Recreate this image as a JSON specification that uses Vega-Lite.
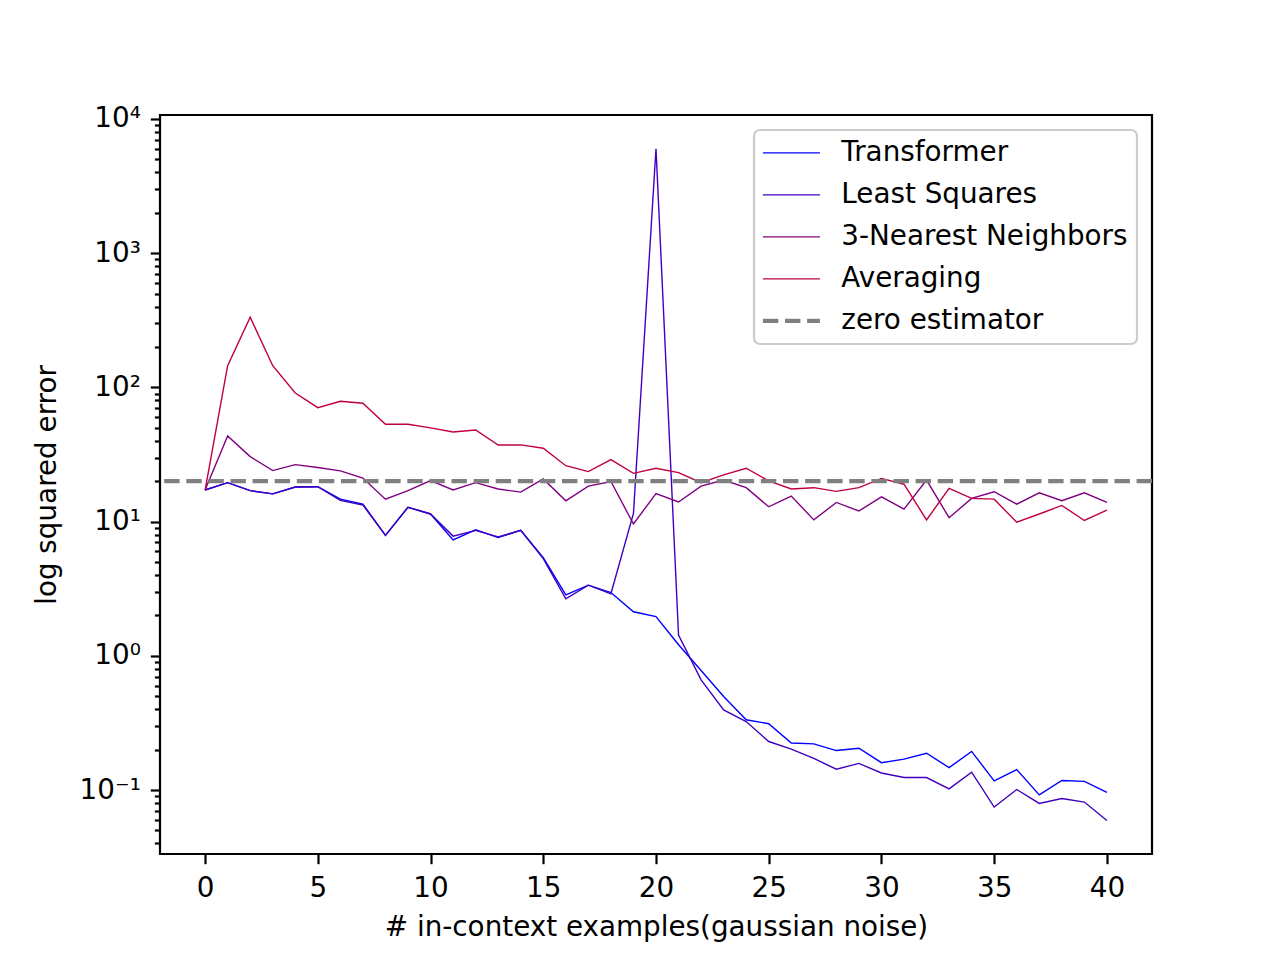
{
  "$schema": "https://vega.github.io/schema/vega-lite/v6.json",
  "width": 992,
  "height": 739,
  "autosize": {"type": "none"},
  "padding": {"left": 160, "top": 115, "right": 128, "bottom": 106},
  "background": "white",
  "config": {
    "font": "DejaVu Sans",
    "view": {"stroke": "black", "strokeWidth": 2.2},
    "axis": {
      "grid": false,
      "domain": false,
      "labelFont": "DejaVu Sans",
      "labelFontSize": 27.8,
      "labelColor": "black",
      "titleFont": "DejaVu Sans",
      "titleFontSize": 27.8,
      "titleFontWeight": "normal",
      "titleColor": "black",
      "tickColor": "black",
      "tickWidth": 2.2
    },
    "legend": {
      "orient": "none",
      "legendX": 594,
      "legendY": 15,
      "labelFont": "DejaVu Sans",
      "labelFontSize": 27.8,
      "labelColor": "black",
      "labelLimit": 0,
      "labelOffset": 36,
      "symbolType": "stroke",
      "symbolSize": 784,
      "symbolOffset": 14.5,
      "rowPadding": 13,
      "padding": 9,
      "fillColor": "rgba(255,255,255,0.8)",
      "strokeColor": "#cccccc",
      "strokeWidth": 2.2,
      "cornerRadius": 6
    }
  },
  "layer": [
    {
      "data": {
        "values": [
          {"n":0,"series":"Transformer","v":17.2},{"n":1,"series":"Transformer","v":19.5},{"n":2,"series":"Transformer","v":17.0},{"n":3,"series":"Transformer","v":16.1},{"n":4,"series":"Transformer","v":18.1},{"n":5,"series":"Transformer","v":18.2},{"n":6,"series":"Transformer","v":14.7},{"n":7,"series":"Transformer","v":13.5},{"n":8,"series":"Transformer","v":7.9},{"n":9,"series":"Transformer","v":12.8},{"n":10,"series":"Transformer","v":11.4},{"n":11,"series":"Transformer","v":7.3},{"n":12,"series":"Transformer","v":8.7},{"n":13,"series":"Transformer","v":7.6},{"n":14,"series":"Transformer","v":8.6},{"n":15,"series":"Transformer","v":5.4},{"n":16,"series":"Transformer","v":2.85},{"n":17,"series":"Transformer","v":3.36},{"n":18,"series":"Transformer","v":2.96},{"n":19,"series":"Transformer","v":2.13},{"n":20,"series":"Transformer","v":1.96},{"n":21,"series":"Transformer","v":1.21},{"n":22,"series":"Transformer","v":0.778},{"n":23,"series":"Transformer","v":0.498},{"n":24,"series":"Transformer","v":0.334},{"n":25,"series":"Transformer","v":0.312},{"n":26,"series":"Transformer","v":0.224},{"n":27,"series":"Transformer","v":0.221},{"n":28,"series":"Transformer","v":0.197},{"n":29,"series":"Transformer","v":0.205},{"n":30,"series":"Transformer","v":0.16},{"n":31,"series":"Transformer","v":0.17},{"n":32,"series":"Transformer","v":0.188},{"n":33,"series":"Transformer","v":0.147},{"n":34,"series":"Transformer","v":0.194},{"n":35,"series":"Transformer","v":0.117},{"n":36,"series":"Transformer","v":0.142},{"n":37,"series":"Transformer","v":0.092},{"n":38,"series":"Transformer","v":0.118},{"n":39,"series":"Transformer","v":0.116},{"n":40,"series":"Transformer","v":0.096},
          {"n":0,"series":"Least Squares","v":17.2},{"n":1,"series":"Least Squares","v":19.5},{"n":2,"series":"Least Squares","v":17.0},{"n":3,"series":"Least Squares","v":16.1},{"n":4,"series":"Least Squares","v":18.1},{"n":5,"series":"Least Squares","v":18.2},{"n":6,"series":"Least Squares","v":14.4},{"n":7,"series":"Least Squares","v":13.3},{"n":8,"series":"Least Squares","v":7.9},{"n":9,"series":"Least Squares","v":12.8},{"n":10,"series":"Least Squares","v":11.4},{"n":11,"series":"Least Squares","v":7.8},{"n":12,"series":"Least Squares","v":8.6},{"n":13,"series":"Least Squares","v":7.7},{"n":14,"series":"Least Squares","v":8.6},{"n":15,"series":"Least Squares","v":5.3},{"n":16,"series":"Least Squares","v":2.66},{"n":17,"series":"Least Squares","v":3.36},{"n":18,"series":"Least Squares","v":2.9},{"n":19,"series":"Least Squares","v":11.5},{"n":20,"series":"Least Squares","v":6000},{"n":21,"series":"Least Squares","v":1.43},{"n":22,"series":"Least Squares","v":0.663},{"n":23,"series":"Least Squares","v":0.396},{"n":24,"series":"Least Squares","v":0.324},{"n":25,"series":"Least Squares","v":0.23},{"n":26,"series":"Least Squares","v":0.202},{"n":27,"series":"Least Squares","v":0.172},{"n":28,"series":"Least Squares","v":0.143},{"n":29,"series":"Least Squares","v":0.158},{"n":30,"series":"Least Squares","v":0.134},{"n":31,"series":"Least Squares","v":0.124},{"n":32,"series":"Least Squares","v":0.124},{"n":33,"series":"Least Squares","v":0.102},{"n":34,"series":"Least Squares","v":0.136},{"n":35,"series":"Least Squares","v":0.0747},{"n":36,"series":"Least Squares","v":0.101},{"n":37,"series":"Least Squares","v":0.0795},{"n":38,"series":"Least Squares","v":0.0865},{"n":39,"series":"Least Squares","v":0.0814},{"n":40,"series":"Least Squares","v":0.0594},
          {"n":0,"series":"3-Nearest Neighbors","v":17.2},{"n":1,"series":"3-Nearest Neighbors","v":43.5},{"n":2,"series":"3-Nearest Neighbors","v":30.5},{"n":3,"series":"3-Nearest Neighbors","v":24.0},{"n":4,"series":"3-Nearest Neighbors","v":26.6},{"n":5,"series":"3-Nearest Neighbors","v":25.3},{"n":6,"series":"3-Nearest Neighbors","v":23.9},{"n":7,"series":"3-Nearest Neighbors","v":21.1},{"n":8,"series":"3-Nearest Neighbors","v":14.7},{"n":9,"series":"3-Nearest Neighbors","v":17.0},{"n":10,"series":"3-Nearest Neighbors","v":20.2},{"n":11,"series":"3-Nearest Neighbors","v":17.2},{"n":12,"series":"3-Nearest Neighbors","v":19.5},{"n":13,"series":"3-Nearest Neighbors","v":17.5},{"n":14,"series":"3-Nearest Neighbors","v":16.6},{"n":15,"series":"3-Nearest Neighbors","v":20.8},{"n":16,"series":"3-Nearest Neighbors","v":14.3},{"n":17,"series":"3-Nearest Neighbors","v":18.4},{"n":18,"series":"3-Nearest Neighbors","v":19.9},{"n":19,"series":"3-Nearest Neighbors","v":9.6},{"n":20,"series":"3-Nearest Neighbors","v":16.2},{"n":21,"series":"3-Nearest Neighbors","v":14.0},{"n":22,"series":"3-Nearest Neighbors","v":18.4},{"n":23,"series":"3-Nearest Neighbors","v":20.4},{"n":24,"series":"3-Nearest Neighbors","v":17.9},{"n":25,"series":"3-Nearest Neighbors","v":12.9},{"n":26,"series":"3-Nearest Neighbors","v":15.5},{"n":27,"series":"3-Nearest Neighbors","v":10.3},{"n":28,"series":"3-Nearest Neighbors","v":13.9},{"n":29,"series":"3-Nearest Neighbors","v":12.0},{"n":30,"series":"3-Nearest Neighbors","v":15.3},{"n":31,"series":"3-Nearest Neighbors","v":12.4},{"n":32,"series":"3-Nearest Neighbors","v":20.4},{"n":33,"series":"3-Nearest Neighbors","v":10.7},{"n":34,"series":"3-Nearest Neighbors","v":14.9},{"n":35,"series":"3-Nearest Neighbors","v":16.7},{"n":36,"series":"3-Nearest Neighbors","v":13.5},{"n":37,"series":"3-Nearest Neighbors","v":16.4},{"n":38,"series":"3-Nearest Neighbors","v":14.3},{"n":39,"series":"3-Nearest Neighbors","v":16.4},{"n":40,"series":"3-Nearest Neighbors","v":13.9},
          {"n":0,"series":"Averaging","v":17.2},{"n":1,"series":"Averaging","v":145},{"n":2,"series":"Averaging","v":333},{"n":3,"series":"Averaging","v":145},{"n":4,"series":"Averaging","v":90.8},{"n":5,"series":"Averaging","v":70.6},{"n":6,"series":"Averaging","v":78.8},{"n":7,"series":"Averaging","v":76.2},{"n":8,"series":"Averaging","v":53.1},{"n":9,"series":"Averaging","v":53.1},{"n":10,"series":"Averaging","v":49.9},{"n":11,"series":"Averaging","v":46.5},{"n":12,"series":"Averaging","v":48.2},{"n":13,"series":"Averaging","v":37.2},{"n":14,"series":"Averaging","v":37.3},{"n":15,"series":"Averaging","v":35.2},{"n":16,"series":"Averaging","v":26.1},{"n":17,"series":"Averaging","v":23.6},{"n":18,"series":"Averaging","v":29.0},{"n":19,"series":"Averaging","v":22.9},{"n":20,"series":"Averaging","v":25.0},{"n":21,"series":"Averaging","v":23.2},{"n":22,"series":"Averaging","v":19.5},{"n":23,"series":"Averaging","v":22.3},{"n":24,"series":"Averaging","v":25.0},{"n":25,"series":"Averaging","v":20.1},{"n":26,"series":"Averaging","v":17.5},{"n":27,"series":"Averaging","v":17.9},{"n":28,"series":"Averaging","v":16.8},{"n":29,"series":"Averaging","v":17.9},{"n":30,"series":"Averaging","v":21.0},{"n":31,"series":"Averaging","v":19.0},{"n":32,"series":"Averaging","v":10.3},{"n":33,"series":"Averaging","v":17.7},{"n":34,"series":"Averaging","v":14.9},{"n":35,"series":"Averaging","v":14.7},{"n":36,"series":"Averaging","v":9.9},{"n":37,"series":"Averaging","v":11.4},{"n":38,"series":"Averaging","v":13.2},{"n":39,"series":"Averaging","v":10.2},{"n":40,"series":"Averaging","v":12.2}
        ]
      },
      "mark": {"type": "line", "clip": true, "strokeWidth": 1.4},
      "encoding": {
        "x": {
          "field": "n", "type": "quantitative",
          "scale": {"domain": [-2, 42], "nice": false, "zero": false},
          "axis": {
            "title": "# in-context examples(gaussian noise)",
            "values": [0, 5, 10, 15, 20, 25, 30, 35, 40],
            "tickSize": 9.7,
            "labelPadding": 10.5,
            "titlePadding": 11,
            "labelFlush": false
          }
        },
        "y": {
          "field": "v", "type": "quantitative",
          "scale": {"type": "log", "domain": [0.0334, 10700], "nice": false},
          "axis": {
            "title": "log squared error",
            "values": [0.04,0.05,0.06,0.07,0.08,0.09,0.1,0.2,0.3,0.4,0.5,0.6,0.7,0.8,0.9,1,2,3,4,5,6,7,8,9,10,20,30,40,50,60,70,80,90,100,200,300,400,500,600,700,800,900,1000,2000,3000,4000,5000,6000,7000,8000,9000,10000],
            "labelExpr": "abs(datum.value-10000)<1e-6 ? '10⁴' : abs(datum.value-1000)<1e-6 ? '10³' : abs(datum.value-100)<1e-6 ? '10²' : abs(datum.value-10)<1e-6 ? '10¹' : abs(datum.value-1)<1e-9 ? '10⁰' : abs(datum.value-0.1)<1e-9 ? '10⁻¹' : ''",
            "tickSize": {"condition": {"test": "abs(log(datum.value)/LN10 - round(log(datum.value)/LN10)) < 1e-6", "value": 9.7}, "value": 5.6},
            "labelOverlap": false,
            "labelFlush": false,
            "labelPadding": 10,
            "titlePadding": 18
          }
        },
        "color": {
          "field": "series", "type": "nominal",
          "scale": {"domain": ["Transformer", "Least Squares", "3-Nearest Neighbors", "Averaging", "zero estimator"], "range": ["#0000ff", "#4000bf", "#800080", "#bf0040", "#808080"]},
          "legend": {
            "title": null,
            "encode": {
              "symbols": {
                "update": {
                  "size": {"value": 3249},
                  "strokeWidth": {"signal": "datum.value === 'zero estimator' ? 4.2 : 1.4"},
                  "strokeDash": {"signal": "datum.value === 'zero estimator' ? [15.4, 6.7] : []"}
                }
              }
            }
          }
        }
      }
    },
    {
      "data": {"values": [{"series": "zero estimator", "v": 20}]},
      "mark": {"type": "rule", "strokeWidth": 4.2, "strokeDash": [15.4, 6.7]},
      "encoding": {
        "y": {"field": "v", "type": "quantitative"},
        "color": {"field": "series", "type": "nominal"}
      }
    }
  ]
}
